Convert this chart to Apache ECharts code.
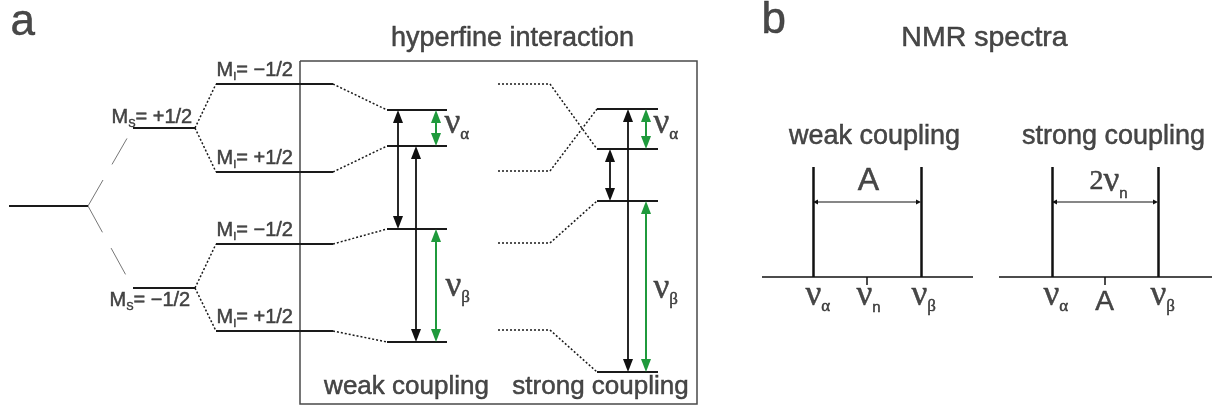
<!DOCTYPE html>
<html>
<head>
<meta charset="utf-8">
<script src="https://cdn.jsdelivr.net/npm/echarts@6/dist/echarts.min.js"></script>
<style>
  html, body { margin: 0; padding: 0; background: #ffffff; }
  #chart { width: 1218px; height: 409px; }
</style>
</head>
<body>
<div id="chart"></div>
<script>
// ---- Energy-level diagram (a) -------------------------------------------
// Level bars as [xStart, xEnd, y] in diagram units (y grows downward).
const electronLevel = [[9, 88, 206]];
const zeemanLevels  = [[133, 195, 128], [133, 195, 288]];               // M_S = +1/2, -1/2
const nuclearLevels = [[216, 333, 84], [216, 333, 172], [216, 333, 244], [216, 333, 331]];
const weakLevels    = [[387, 447, 110], [387, 447, 146], [387, 447, 229], [387, 447, 342]];
const strongStubs   = [[498, 550, 84], [498, 550, 171], [498, 550, 243], [498, 550, 330]];
const strongLevels  = [[597, 658, 109], [597, 658, 149], [597, 658, 201], [597, 658, 372]];
// which strong-coupling level each nuclear sublevel ends on (top two cross)
const strongMap = [1, 0, 2, 3];
// hyperfine box: [x0, y0, x1, y1]
const frameBox = [300, 61, 697, 404];

// Transitions: [x, fromLevelIndex, toLevelIndex]
const weakEpr    = [[398, 0, 2], [416, 1, 3]];
const weakNmr    = [[436, 0, 1], [436, 2, 3]];
const strongEpr  = [[628, 0, 3], [610, 1, 2]];
const strongNmr  = [[646, 0, 1], [646, 2, 3]];

// ---- NMR spectra (b) ------------------------------------------------------
const spectrumBaseY = 277;
const peakTopY = 167;
const spanY = 202;
const weakAxis   = [762, 973];
const strongAxis = [999, 1212];
const weakPeaks   = [813, 921];     // nu_alpha, nu_beta
const strongPeaks = [1052, 1158];
const centerTickLen = 8;

// ---- Text ------------------------------------------------------------------
const panelLetters = [['a', 11, 23], ['b', 762, 21]];
const headings = [['hyperfine interaction', 513, 39, 27], ['NMR spectra', 985, 39, 28.5]];
const captions = [
  ['weak coupling', 407, 387, 26], ['strong coupling', 601, 387, 26],
  ['weak coupling', 875, 137, 27], ['strong coupling', 1114, 137, 27]
];
// spin labels: [symbol, subscript, rest, x, y]
const spinLabels = [
  ['M', 'I', '= \u22121/2', 217, 83],
  ['M', 'I', '= +1/2', 217, 171],
  ['M', 'I', '= \u22121/2', 217, 243],
  ['M', 'I', '= +1/2', 217, 330],
  ['M', 'S', '= +1/2', 112, 130],
  ['M', 'S', '= \u22121/2', 110, 313]
];
// frequency labels: [subscript, x, y]
const nuLabels = [
  ['\u03b1', 445, 124], ['\u03b2', 446, 287], ['\u03b1', 654, 124], ['\u03b2', 654, 289],
  ['\u03b1', 806, 296], ['n', 857, 296], ['\u03b2', 912, 296],
  ['\u03b1', 1044, 296], ['\u03b2', 1151, 296]
];
const couplingLabels = [['A', 869, 182, 32], ['A', 1105, 303, 28]];
const twoNuLabel = [1109, 182];

// ---- Styling ---------------------------------------------------------------
const INK = '#1a1a1a';
const GREEN = '#1f9a3c';
const SANS = '"Liberation Sans", Arial, Helvetica, sans-serif';
const SERIF = '"Liberation Serif", "Times New Roman", serif';
// a faint outline in the text colour gives the lettering a little more weight
const WEIGHT = { textBorderColor: INK, textBorderWidth: 0.5 };

function bar(l) { return { coords: [[l[0], l[2]], [l[1], l[2]]] }; }
function seg(a, b) { return { coords: [a, b] }; }

// connectors between neighbouring columns of levels
const zeemanLinks = zeemanLevels.map(z => seg([electronLevel[0][1], electronLevel[0][2]], [z[0], z[2]]));
const nuclearLinks = [];
nuclearLevels.forEach((n, i) => {
  const z = zeemanLevels[i < 2 ? 0 : 1];
  nuclearLinks.push(seg([z[1], z[2]], [n[0], n[2]]));
});
const weakLinks = nuclearLevels.map((n, i) => seg([n[1], n[2]], [weakLevels[i][0], weakLevels[i][2]]));
const strongLinks = strongStubs.map((s, i) => {
  const t = strongLevels[strongMap[i]];
  return seg([s[1], s[2]], [t[0], t[2]]);
});

function transitions(list, levels) {
  return list.map(t => [t[0], levels[t[1]][2], t[0], levels[t[2]][2]]);
}

// double-headed arrow drawn on the cartesian grid
function arrowSeries(items, color, width, headLen, headHalf) {
  return {
    type: 'custom',
    coordinateSystem: 'cartesian2d',
    silent: true,
    encode: { x: [0, 2], y: [1, 3] },
    data: items,
    renderItem: function (params, api) {
      const a = api.coord([api.value(0), api.value(1)]);
      const b = api.coord([api.value(2), api.value(3)]);
      const dx = b[0] - a[0], dy = b[1] - a[1];
      const len = Math.hypot(dx, dy);
      const ux = dx / len, uy = dy / len, px = -uy, py = ux;
      function head(t, s) {
        const bx = t[0] - s * ux * headLen, by = t[1] - s * uy * headLen;
        return {
          type: 'polygon',
          shape: { points: [t, [bx + px * headHalf, by + py * headHalf], [bx - px * headHalf, by - py * headHalf]] },
          style: { fill: color }
        };
      }
      return {
        type: 'group',
        children: [
          {
            type: 'line',
            shape: {
              x1: a[0] + ux * headLen * 0.6, y1: a[1] + uy * headLen * 0.6,
              x2: b[0] - ux * headLen * 0.6, y2: b[1] - uy * headLen * 0.6
            },
            style: { stroke: color, lineWidth: width }
          },
          head(b, 1),
          head(a, -1)
        ]
      };
    }
  };
}

function lineSeries(data, style) {
  return {
    type: 'lines',
    coordinateSystem: 'cartesian2d',
    polyline: false,
    silent: true,
    symbol: 'none',
    lineStyle: Object.assign({ opacity: 1, curveness: 0 }, style),
    data: data
  };
}

const rich = {
  m:  Object.assign({ fontFamily: SANS, fontSize: 20, lineHeight: 24, color: INK, verticalAlign: 'middle' }, WEIGHT),
  ms: Object.assign({ fontFamily: SANS, fontSize: 11, lineHeight: 11, color: INK, verticalAlign: 'bottom' }, WEIGHT),
  nu: Object.assign({ fontFamily: SERIF, fontSize: 35, lineHeight: 40, color: INK, verticalAlign: 'middle' }, WEIGHT),
  two:Object.assign({ fontFamily: SERIF, fontSize: 28, lineHeight: 40, color: INK, verticalAlign: 'middle' }, WEIGHT),
  gs: Object.assign({ fontFamily: SERIF, fontSize: 17, lineHeight: 18, color: INK, verticalAlign: 'bottom' }, WEIGHT),
  ns: Object.assign({ fontFamily: SANS, fontSize: 15, lineHeight: 17, color: INK, verticalAlign: 'bottom' }, WEIGHT)
};

function textItem(x, y, text, label) {
  return {
    value: [x, y],
    label: Object.assign({ show: true, position: [0, 0], formatter: text, color: INK, fontFamily: SANS, rich: rich }, WEIGHT, label)
  };
}

const textData = [];
panelLetters.forEach(p => textData.push(textItem(p[1], p[2], p[0], { fontSize: 44, align: 'left', verticalAlign: 'middle' })));
headings.concat(captions).forEach(h => textData.push(textItem(h[1], h[2], h[0], { fontSize: h[3], align: 'center', verticalAlign: 'middle' })));
spinLabels.forEach(s => textData.push(textItem(s[3], s[4], '{m|' + s[0] + '}{ms|' + s[1] + '}{m|' + s[2] + '}', { align: 'left', verticalAlign: 'bottom' })));
nuLabels.forEach(n => {
  const sub = n[0] === 'n' ? '{ns|n}' : '{gs|' + n[0] + '}';
  textData.push(textItem(n[1], n[2], '{nu|\u03bd}' + sub, { align: 'left', verticalAlign: 'middle' }));
});
couplingLabels.forEach(c => textData.push(textItem(c[1], c[2], c[0], { fontSize: c[3], align: 'center', verticalAlign: 'middle' })));
textData.push(textItem(twoNuLabel[0], twoNuLabel[1], '{two|2}{nu|\u03bd}{ns|n}', { align: 'center', verticalAlign: 'middle' }));

// spectrum geometry
const specBase = [
  seg([weakAxis[0], spectrumBaseY], [weakAxis[1], spectrumBaseY]),
  seg([strongAxis[0], spectrumBaseY], [strongAxis[1], spectrumBaseY])
];
const specPeaks = weakPeaks.concat(strongPeaks).map(x => seg([x, peakTopY], [x, spectrumBaseY]));
const specTicks = [weakPeaks, strongPeaks].map(p => {
  const c = (p[0] + p[1]) / 2;
  return seg([c, spectrumBaseY], [c, spectrumBaseY + centerTickLen]);
});
const spans = [weakPeaks, strongPeaks].map(p => [p[0], spanY, p[1], spanY]);

const frame = [{ coords: [[frameBox[0], frameBox[1]], [frameBox[2], frameBox[1]], [frameBox[2], frameBox[3]], [frameBox[0], frameBox[3]], [frameBox[0], frameBox[1]]] }];

const chart = echarts.init(document.getElementById('chart'), null, { renderer: 'canvas' });
chart.setOption({
  animation: false,
  backgroundColor: '#ffffff',
  grid: { left: 0, right: 0, top: 0, bottom: 0 },
  xAxis: { type: 'value', min: 0, max: 1218, show: false },
  yAxis: { type: 'value', min: 0, max: 409, inverse: true, show: false },
  series: [
    Object.assign(lineSeries(frame, { color: '#4a4a4a', width: 1.5 }), { polyline: true }),
    lineSeries(zeemanLinks, { color: '#777777', width: 1, type: [30, 18] }),
    lineSeries(nuclearLinks.concat(weakLinks, strongLinks), { color: INK, width: 1.5, type: [2, 2] }),
    lineSeries(strongStubs.map(bar), { color: INK, width: 1.5, type: [2, 2] }),
    lineSeries(electronLevel.concat(zeemanLevels, nuclearLevels, weakLevels, strongLevels).map(bar), { color: INK, width: 2 }),
    arrowSeries(transitions(weakEpr, weakLevels).concat(transitions(strongEpr, strongLevels)), '#111111', 1.8, 13, 5),
    arrowSeries(transitions(weakNmr, weakLevels).concat(transitions(strongNmr, strongLevels)), GREEN, 2, 13, 5),
    lineSeries(specBase.concat(specTicks), { color: '#111111', width: 1.5 }),
    lineSeries(specPeaks, { color: '#111111', width: 2.5 }),
    arrowSeries(spans, '#111111', 1.2, 5, 2.5),
    {
      type: 'scatter',
      silent: true,
      symbolSize: 1,
      itemStyle: { color: 'rgba(0,0,0,0)' },
      data: textData,
      z: 10
    }
  ]
});
</script>
</body>
</html>
